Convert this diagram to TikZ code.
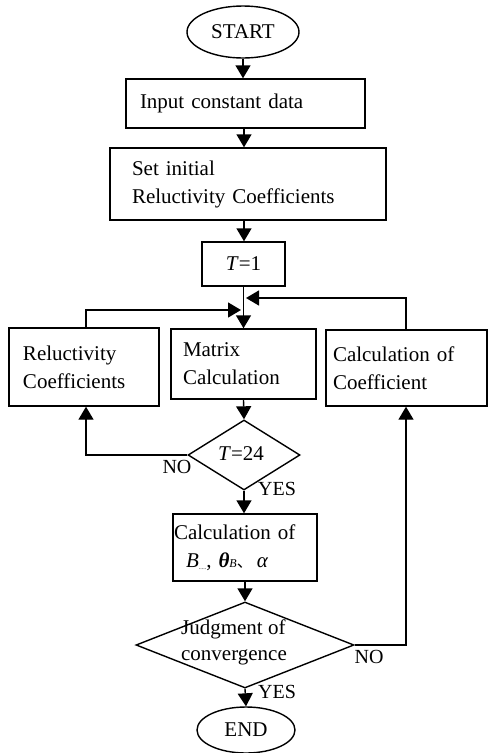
\documentclass[tikz,border=0pt]{standalone}
\usepackage{fontspec}
\setmainfont{Liberation Serif}
\newfontfamily\cjk{Noto Sans CJK SC}
\usetikzlibrary{shapes.geometric,arrows.meta}
\tikzset{
  x=1pt,y=-1pt,
  every node/.style={font=\fontsize{21}{28}\selectfont},
  box/.style={draw,line width=1.4pt,rectangle,inner ysep=0pt,align=left},
  term/.style={draw,line width=1.4pt,ellipse,inner sep=0pt},
  dia/.style={draw,line width=1.4pt,diamond,inner sep=0pt},
  lbl/.style={inner sep=0pt,font=\fontsize{20}{24}\selectfont},
  arr/.style={line width=1.4pt,-{Triangle[width=15pt,length=13pt]}},
}
\begin{document}
\begin{tikzpicture}
\useasboundingbox (0,0) rectangle (488,753);
% terminals
\node[term,minimum width=112pt,minimum height=52pt] (start) at (243,32) {START};
\node[term,minimum width=98pt,minimum height=46pt] (end) at (246,730) {END};
% boxes
\node[box,minimum width=239pt,minimum height=49pt,inner xsep=14pt,text width=211pt] (input) at (245.5,103.5) {Input constant data};
\node[box,minimum width=276pt,minimum height=72pt,inner xsep=22pt,text width=232pt] (setinit) at (248,184) {Set initial\\Reluctivity Coefficients};
\node[box,minimum width=83pt,minimum height=44pt,align=center] (t1) at (243.5,264) {\textit{T}=1};
\node[box,minimum width=150pt,minimum height=78pt,inner xsep=14pt,text width=122pt] (relu) at (84,367) {Reluctivity\\Coefficients};
\node[box,minimum width=145pt,minimum height=70pt,inner xsep=12pt,text width=121pt] (matrix) at (243.5,364) {Matrix\\Calculation};
\node[box,minimum width=161pt,minimum height=76pt,inner xsep=7pt,text width=147pt] (coef) at (406.5,368) {Calculation of\\Coefficient};
\node[box,minimum width=144pt,minimum height=67pt,inner xsep=1pt,text width=142pt] (calcb) at (245,547.5) {Calculation of\\\hspace*{12pt}\textit{B}\raisebox{-2pt}{\fontsize{6}{6}\selectfont .....}, \textbf{\textit{θ}}{\fontsize{12}{12}\selectfont\textit{B}}{\cjk\fontsize{16}{16}\selectfont 、}\hspace{4pt}\textit{α}};
% diamonds
\node[dia,minimum width=112pt,minimum height=70pt] (d1) at (244,455) {};
\node[inner sep=0pt] (d1t) at (241,454) {\textit{T}=24};
\node[dia,minimum width=218pt,minimum height=86pt] (d2) at (245,645) {};
\node[inner sep=0pt,align=left,font=\fontsize{21}{26}\selectfont] (d2t) at (234,642) {Judgment of\\convergence};
% main flow
\draw[arr] (start.south) -- (start.south |- input.north);
\draw[arr] (input.south -| 244,0) -- (setinit.north -| 244,0);
\draw[arr] (setinit.south -| 244,0) -- (t1.north -| 244,0);
\draw[arr] (t1.south) -- (t1.south |- matrix.north);
\draw[arr] (matrix.south) -- (d1.north);
\draw[arr] (d1.south) -- (d1.south |- calcb.north);
\draw[arr] (calcb.south) -- (d2.north);
\draw[arr] (d2.south) -- (end.north);
% loops
\coordinate (jl) at (241,310);
\coordinate (jr) at (246,298);
\draw[arr] (relu.north -| 86,0) |- (jl);
\draw[arr] (coef.north -| 406,0) |- (jr);
\draw[arr] (d1.west) -| (relu.south -| 86,0);
\draw[arr] (d2.east) -| (coef.south -| 406,0);
% labels
\node[lbl] (no1) at (177,467) {NO};
\node[lbl] (yes1) at (277,489) {YES};
\node[lbl] (no2) at (369,657) {NO};
\node[lbl] (yes2) at (277,692) {YES};
\end{tikzpicture}
\end{document}
